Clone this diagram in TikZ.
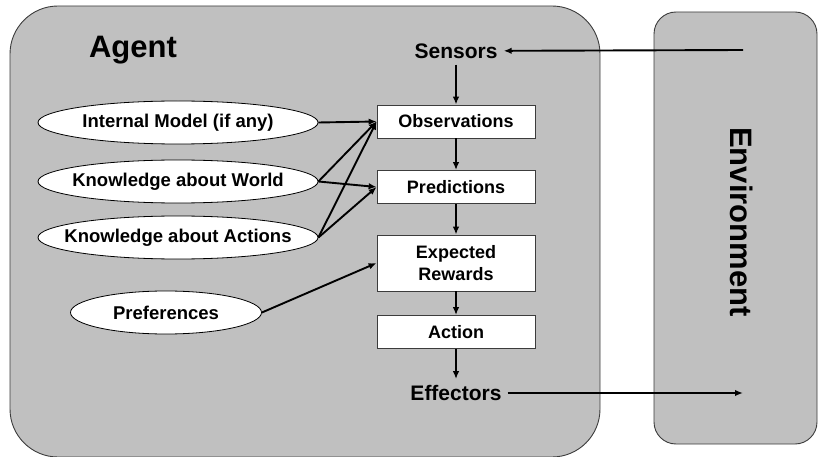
\documentclass[tikz,border=0pt]{standalone}
\usepackage{fontspec}
\setmainfont{Liberation Sans}
\usetikzlibrary{shapes.geometric, arrows.meta}
\definecolor{panelgray}{RGB}{192,192,192}
\definecolor{edgegray}{RGB}{60,60,60}

\begin{document}
\begin{tikzpicture}[
    x=1pt, y=-1pt,
    every node/.style={font=\bfseries\fontsize{18}{22}\selectfont, align=center},
    panel/.style={draw=edgegray, fill=panelgray, line width=0.9pt},
    stage/.style={
        rectangle, 
        draw=edgegray, 
        fill=white, 
        line width=0.8pt,
        minimum width=158, 
        minimum height=33,
        inner sep=2pt
    },
    belief/.style={
        ellipse, 
        draw=black, 
        fill=white, 
        line width=0.8pt,
        minimum height=43, 
        inner xsep=-16pt, 
        inner ysep=0pt,
        font=\bfseries\fontsize{18.5}{22}\selectfont
    },
    port/.style={inner sep=6pt, font=\bfseries\fontsize{21}{24}\selectfont},
    title/.style={font=\bfseries\fontsize{31}{36}\selectfont},
    flow/.style={-{Latex[length=8pt,width=6.5pt]}, line width=1.9pt},
]

  \useasboundingbox (0,0) rectangle (819,457);

  % START OF TIKZ NODES

  % the two panels
  \node[panel, rounded corners=48, minimum width=590, minimum height=451] (agent) at (305,231.5) {};
  \node[panel, rounded corners=22, minimum width=163, minimum height=432] (env) at (735.5,228) {};

  \node[title] (agentlabel) at (133,50) {Agent};
  \node[title, rotate=-90] (envlabel) at (742,222) {Environment};

  % sensors and effectors
  \node[port] (sensors) at (456,51) {Sensors};
  \node[port] (effectors) at (456,393) {Effectors};
  \coordinate (envin) at (743,50);
  \coordinate (envout) at (743,393);

  % the chain in the middle
  \node[stage] (obs) at (456,121.5) {Observations};
  \node[stage] (pred) at (456,187) {Predictions};
  \node[stage, minimum height=56] (rewards) at (456,263) {Expected\\Rewards};
  \node[stage] (action) at (456,332) {Action};

  % what the agent knows
  \node[belief, minimum width=280] (intmodel) at (178,122.5) {Internal Model (if any)};
  \node[belief, minimum width=280] (world) at (178,181.5) {Knowledge about World};
  \node[belief, minimum width=280] (know) at (178,237.5) {Knowledge about Actions};
  \node[belief, minimum width=191] (prefs) at (166,312.5) {Preferences};

  % arrows
  \draw[flow] (envin) -- (sensors);
  \draw[flow] (sensors) -- (obs);
  \draw[flow] (obs) -- (pred);
  \draw[flow] (pred) -- (rewards);
  \draw[flow] (rewards) -- (action);
  \draw[flow] (action) -- (effectors);
  \draw[flow] (effectors) -- (envout);

  \draw[flow] (intmodel.east) -- (obs.west);
  \draw[flow] (world.east) -- (obs.west);
  \draw[flow] (world.east) -- (pred.west);
  \draw[flow] (know.east) -- (obs.west);
  \draw[flow] (know.east) -- (pred.west);
  \draw[flow] (prefs.east) -- (rewards.west);

  ; % End of the diagram

\end{tikzpicture}
\end{document}
